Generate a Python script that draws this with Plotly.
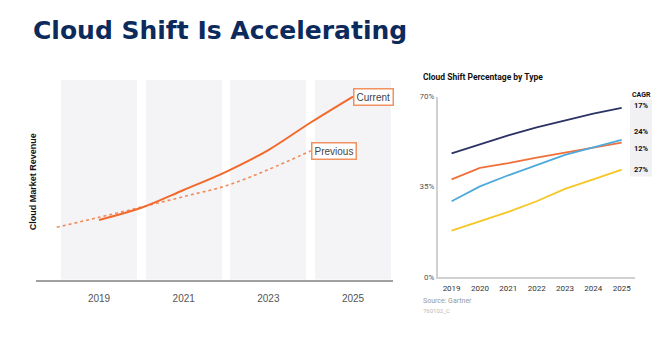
import plotly.graph_objects as go

# ---- data ----
left_years = [2019, 2020, 2021, 2022, 2023, 2024, 2025]
current_rev = [29.9, 36.0, 44.9, 54.0, 64.9, 78.7, 91.7]
prev_years = [2018, 2019, 2020, 2021, 2022, 2023, 2024]
previous_rev = [26.2, 31.2, 36.3, 41.6, 47.0, 55.1, 64.5]
band_years = [2019, 2021, 2023, 2025]
band_height = [100, 100, 100, 100]

right_years = [2019, 2020, 2021, 2022, 2023, 2024, 2025]
navy_vals = [47.9, 51.5, 54.9, 58.0, 60.8, 63.4, 65.6]
orange_vals = [37.8, 42.3, 44.1, 46.3, 48.2, 50.2, 52.1]
blue_vals = [29.3, 35.1, 39.4, 43.5, 47.3, 50.2, 53.2]
yellow_vals = [17.9, 21.4, 25.2, 29.3, 34.1, 37.8, 41.6]
cagr_labels = ["17%", "24%", "12%", "27%"]
cagr_y = [66.5, 56.5, 50.0, 41.8]
y_ticks = [0, 35, 70]
y_ticktext = ["0%", "35%", "70%"]

W, H = 670, 345
def px(x):
    return x / W
def py(y):
    return 1 - y / H

ORANGE = "#f26a2b"
NARROW = "Roboto, Liberation Sans, Arial"
fig = go.Figure()

# left chart
fig.add_trace(go.Bar(x=band_years, y=band_height, width=1.8, marker_color="#f4f4f6",
                     marker_line_width=0, xaxis="x", yaxis="y", showlegend=False, hoverinfo="skip"))
fig.add_trace(go.Scatter(x=prev_years, y=previous_rev, mode="lines", line=dict(color="#f08a5a", width=1.6, dash="3px,3px", shape="spline"),
                         xaxis="x", yaxis="y", showlegend=False))
fig.add_trace(go.Scatter(x=left_years, y=current_rev, mode="lines", line=dict(color=ORANGE, width=2, shape="spline"),
                         xaxis="x", yaxis="y", showlegend=False))

# right chart
for vals, col in [(navy_vals, "#2b3365"), (orange_vals, "#f0703a"), (blue_vals, "#4ea9dd"), (yellow_vals, "#f6c624")]:
    fig.add_trace(go.Scatter(x=right_years, y=vals, mode="lines", line=dict(color=col, width=1.8),
                             xaxis="x2", yaxis="y2", showlegend=False))

fig.update_layout(
    width=W, height=H, margin=dict(l=0, r=0, t=0, b=0),
    paper_bgcolor="white", plot_bgcolor="rgba(0,0,0,0)",
    bargap=0,
    xaxis=dict(domain=[px(36), px(393)], range=[2017.51, 2025.945], tickvals=band_years,
               showline=True, linecolor="#a0a0a0", linewidth=1.5, showgrid=False, zeroline=False,
               ticks="outside", ticklen=9, tickcolor="rgba(0,0,0,0)",
               tickfont=dict(family="Liberation Sans, Arial", size=10, color="#555")),
    yaxis=dict(domain=[py(283), py(78)], range=[0, 100], visible=False),
    xaxis2=dict(domain=[px(438), px(635)], range=[2018.52, 2025.47], tickvals=right_years, anchor="y2",
                showline=True, linecolor="#d0d0d0", linewidth=2, showgrid=False, zeroline=False,
                ticks="outside", ticklen=3, tickcolor="rgba(0,0,0,0)",
                tickfont=dict(family=NARROW, size=8, color="#333")),
    yaxis2=dict(domain=[py(280), py(95)], range=[0, 70], tickvals=y_ticks, ticktext=y_ticktext, anchor="x2",
                showline=True, linecolor="#d0d0d0", linewidth=2, showgrid=False, zeroline=False,
                tickfont=dict(family=NARROW, size=8, color="#555")),
)

# CAGR background box
fig.add_shape(type="rect", xref="paper", yref="paper", x0=px(630), x1=px(652), y0=py(177), y1=py(98),
              fillcolor="#f1f1f4", line_width=0, layer="below")

ann = []
ann.append(dict(text="<b>Cloud Shift Is Accelerating</b>", xref="paper", yref="paper", x=px(31), y=py(27),
                xanchor="left", yanchor="middle", showarrow=False,
                font=dict(family="DejaVu Sans, Liberation Sans", size=25, color="#0c2a5c")))
ann.append(dict(text="<b>Cloud Market Revenue</b>", xref="paper", yref="paper", x=px(33), y=py(183),
                textangle=-90, showarrow=False, xanchor="center", yanchor="middle",
                font=dict(family="Liberation Sans, Arial", size=9, color="#111")))
ann.append(dict(text="Current", x=2025, y=current_rev[-1], xref="x", yref="y", xanchor="left", yanchor="middle",
                showarrow=False, bgcolor="white", bordercolor="#f0915f", borderwidth=1.5, borderpad=2,
                font=dict(family="Liberation Sans, Arial", size=10, color="#444")))
ann.append(dict(text="Previous", x=2024, y=previous_rev[-1], xref="x", yref="y", xanchor="left", yanchor="middle",
                showarrow=False, bgcolor="white", bordercolor="#f0915f", borderwidth=1.5, borderpad=2,
                font=dict(family="Liberation Sans, Arial", size=10, color="#444")))
ann.append(dict(text="<b>Cloud Shift Percentage by Type</b>", xref="paper", yref="paper", x=px(421), y=py(75),
                xanchor="left", yanchor="middle", showarrow=False,
                font=dict(family=NARROW, size=8.5, color="#111")))
ann.append(dict(text="<b>CAGR</b>", xref="paper", yref="paper", x=px(641), y=py(93),
                xanchor="center", yanchor="middle", showarrow=False,
                font=dict(family=NARROW, size=7, color="#111")))
for lab, yv in zip(cagr_labels, cagr_y):
    ann.append(dict(text="<b>" + lab + "</b>", xref="paper", y=yv, yref="y2", x=px(641),
                    xanchor="center", yanchor="middle", showarrow=False,
                    font=dict(family=NARROW, size=7.5, color="#111")))
ann.append(dict(text="Source: Gartner", xref="paper", yref="paper", x=px(421), y=py(305),
                xanchor="left", yanchor="middle", showarrow=False,
                font=dict(family=NARROW, size=7, color="#999")))
ann.append(dict(text="760102_C", xref="paper", yref="paper", x=px(421), y=py(315),
                xanchor="left", yanchor="middle", showarrow=False,
                font=dict(family=NARROW, size=6, color="#bbb")))
fig.update_layout(annotations=ann)

fig.write_html("out.html")
